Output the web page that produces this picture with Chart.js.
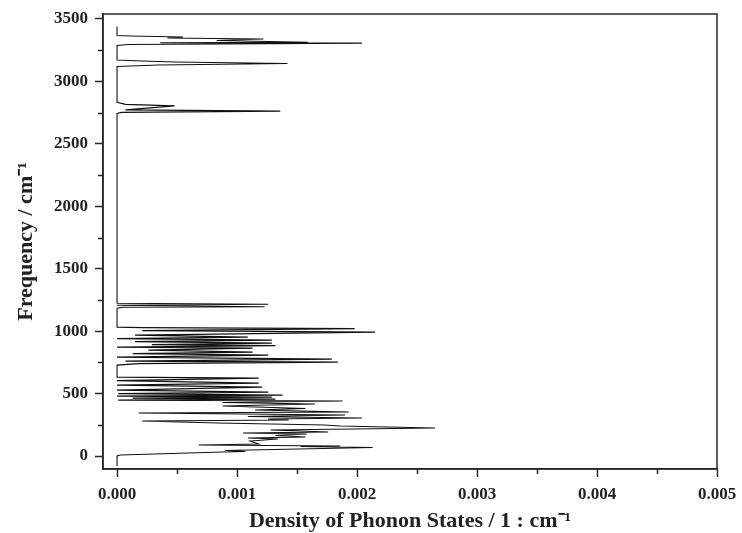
<!DOCTYPE html>
<html>
<head>
<meta charset="utf-8">
<script src="https://cdn.jsdelivr.net/npm/chart.js@4"></script>
<style>
  html, body { margin: 0; padding: 0; background: #ffffff; }
  #wrap { width: 742px; height: 533px; position: relative; }
</style>
</head>
<body>
<div id="wrap"><canvas id="c" width="742" height="533"></canvas></div>
<script>
// Frequency (cm^-1) along the traced curve, in order
const frequency = [
  -80, 0, 8, 32, 36, 44, 68, 76, 80, 88, 96, 120, 136, 144, 152, 164, 176, 184, 192, 208,
  224, 240, 248, 264, 280, 288, 296, 304, 316, 328, 344, 352, 368, 380, 400, 416, 428, 440,
  448, 456, 464, 472, 480, 488, 500, 512, 528, 552, 568, 584, 604, 624, 632, 728, 740, 752,
  760, 776, 792, 808, 820, 832, 848, 864, 872, 884, 892, 904, 916, 928, 940, 952, 968, 992,
  1004, 1020, 1028, 1032, 1184, 1192, 1196, 1208, 1216, 1224,
  2744, 2752, 2762, 2772, 2804, 2816, 2832,
  3120, 3131, 3143, 3151, 3155, 3163, 3171,
  3288, 3296, 3307, 3310, 3314, 3328, 3340, 3348, 3356, 3364, 3368, 3440
];
// Density of phonon states (1 : cm^-1) at each frequency above
const density = [
  0, 0, 0.00003, 0.00088, 0.00107, 0.0009, 0.00213, 0.00153, 0.00186, 0.00068, 0.00118, 0.00111, 0.00134, 0.00109, 0.00157, 0.00132, 0.00158, 0.00105, 0.00176, 0.00128,
  0.00265, 0.00186, 0.00173, 0.00084, 0.00021, 0.00143, 0.00126, 0.00204, 0.00109, 0.0019, 0.00018, 0.00193, 0.00115, 0.00157, 0.00088, 0.00165, 0.00088, 0.00188,
  0.00001, 0.00132, 0.00013, 0.00129, 0, 0.00138, 0.00001, 0.00126, 0, 0.00121, 0, 0.00118, 0, 0.00118, 0, 0, 0.00018, 0.00184,
  0.00007, 0.00179, 0, 0.00126, 0.00013, 0.00113, 0.00026, 0.00113, 0, 0.00132, 0.00029, 0.00129, 0.00015, 0.00129, 0, 0.00109, 0.00015, 0.00215,
  0.00021, 0.00198, 0.00021, 0, 0, 0.00005, 0.00123, 0, 0.00126, 0,
  0, 0.00004, 0.00136, 0.00007, 0.00048, 0.00007, 0,
  0, 0.00034, 0.00142, 0.00079, 0.00048, 0.00021, 0,
  0, 0.00009, 0.00204, 0.00036, 0.00159, 0.00083, 0.00122, 0.00042, 0.00055, 0.00011, 0, 0
];
const xTickValues = [0, 0.001, 0.002, 0.003, 0.004, 0.005];
const xTickLabels = ['0.000', '0.001', '0.002', '0.003', '0.004', '0.005'];
const xMinorTicks = [0.0005, 0.0015, 0.0025, 0.0035, 0.0045];
const yTickValues = [0, 500, 1000, 1500, 2000, 2500, 3000, 3500];
const yTickLabels = ['0', '500', '1000', '1500', '2000', '2500', '3000', '3500'];
const yMinorTicks = [250, 750, 1250, 1750, 2250, 2750, 3250];

const points = frequency.map((f, i) => ({ x: density[i], y: f }));
const FONT = 'Liberation Serif, Times New Roman, serif';
const INK = '#262626';

const framePlugin = {
  id: 'frame',
  afterDraw(chart) {
    const { ctx, chartArea: a, scales } = chart;
    ctx.save();
    ctx.strokeStyle = INK;
    ctx.lineWidth = 1.5;
    ctx.strokeRect(a.left, a.top, a.right - a.left, a.bottom - a.top);
    ctx.beginPath();
    xMinorTicks.forEach(v => {
      const p = Math.round(scales.x.getPixelForValue(v)) + 0.5;
      ctx.moveTo(p, a.bottom); ctx.lineTo(p, a.bottom + 5);
    });
    yMinorTicks.forEach(v => {
      const p = Math.round(scales.y.getPixelForValue(v)) + 0.5;
      ctx.moveTo(a.left, p); ctx.lineTo(a.left - 5, p);
    });
    ctx.stroke();
    ctx.restore();
  }
};

new Chart(document.getElementById('c'), {
  type: 'scatter',
  data: {
    datasets: [{
      data: points,
      showLine: true,
      borderColor: '#111111',
      borderWidth: 1.1,
      pointRadius: 0,
      tension: 0,
      fill: false
    }]
  },
  options: {
    responsive: false,
    animation: false,
    layout: { padding: { top: 14, right: 25, left: 0, bottom: 0 } },
    plugins: { legend: { display: false }, tooltip: { enabled: false } },
    scales: {
      x: {
        type: 'linear',
        position: 'bottom',
        min: -0.000117,
        max: 0.005,
        afterBuildTicks: s => { s.ticks = xTickValues.map(v => ({ value: v })); },
        afterFit: s => { s.height = 64; s.paddingLeft = 0; s.paddingRight = 0; },
        grid: { drawOnChartArea: false, drawTicks: true, tickLength: 8, tickWidth: 1.5, tickColor: INK },
        border: { display: true, color: INK, width: 1.5 },
        ticks: {
          font: { family: FONT, size: 17, weight: 'bold' },
          color: '#222',
          padding: 7,
          maxRotation: 0,
          autoSkip: false,
          callback: (v, i) => xTickLabels[i]
        },
        title: {
          display: true,
          text: 'Density of Phonon States / 1 : cm⁻¹',
          font: { family: FONT, size: 22, weight: 'bold' },
          color: '#222',
          padding: { top: 0, bottom: -2 }
        }
      },
      y: {
        type: 'linear',
        position: 'left',
        min: -104,
        max: 3540,
        afterBuildTicks: s => { s.ticks = yTickValues.map(v => ({ value: v })); },
        afterFit: s => { s.width = 103; s.paddingTop = 0; s.paddingBottom = 0; },
        grid: { drawOnChartArea: false, drawTicks: true, tickLength: 8, tickWidth: 1.5, tickColor: INK },
        border: { display: true, color: INK, width: 1.5 },
        ticks: {
          font: { family: FONT, size: 17, weight: 'bold' },
          color: '#222',
          padding: 7,
          autoSkip: false,
          callback: (v, i) => yTickLabels[i]
        },
        title: {
          display: true,
          text: 'Frequency / cm⁻¹',
          font: { family: FONT, size: 22, weight: 'bold' },
          color: '#222',
          padding: { top: 13, bottom: 2 }
        }
      }
    }
  },
  plugins: [framePlugin]
});
</script>
</body>
</html>
